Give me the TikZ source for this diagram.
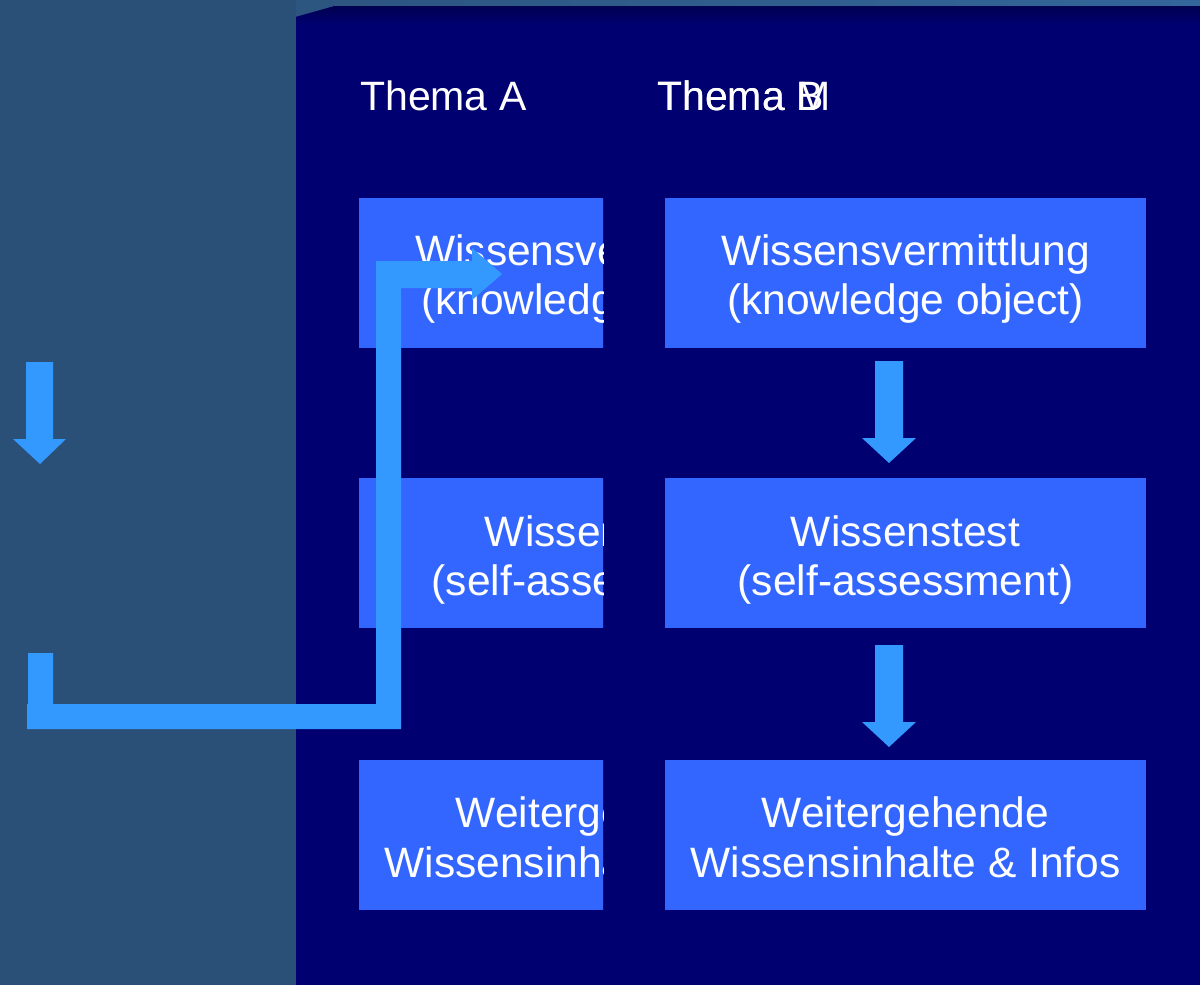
\documentclass[tikz,border=0pt]{standalone}
\usepackage{fontspec}
\setmainfont{Liberation Sans}
\definecolor{bgleft}{HTML}{2A5077}
\definecolor{bgright}{HTML}{33669A}
\definecolor{panel}{HTML}{000070}
\definecolor{paneltop}{HTML}{000050}
\definecolor{boxblue}{HTML}{3366FF}
\definecolor{arrowblue}{HTML}{3399FF}
\begin{document}
\begin{tikzpicture}[x=1pt,y=-1pt,
  box/.style={fill=boxblue, draw=none, minimum width=481pt, minimum height=150pt, inner sep=0pt, anchor=north west},
  boxtext/.style={text=white, font=\fontsize{42.5}{50}\selectfont, anchor=base, inner sep=0pt},
  thema/.style={text=white, font=\fontsize{41}{49}\selectfont, anchor=base west, inner sep=0pt},
  blockarrow/.style={fill=arrowblue, draw=none}]
\useasboundingbox (0,0) rectangle (1200,985);
% background
\shade[left color=bgleft, right color=bgright] (0,0) rectangle (1200,985);
\fill[bgleft] (0,0) rectangle (296,985);
% panel
\fill[panel] (296,985) -- (296,17) -- (335,6) -- (1200,6) -- (1200,985) -- cycle;
\begin{scope}
  \clip (296,985) -- (296,17) -- (335,6) -- (1200,6) -- (1200,985) -- cycle;
  \shade[top color=paneltop, bottom color=panel] (296,6) rectangle (1200,24);
\end{scope}
% titles
\node[thema] (tA) at (360,110) {Thema A};
\node[thema] (tB) at (657,110) {Thema B};
\node[thema] (tM) at (657,110) {Thema M};
% left column (clipped)
\begin{scope}
  \clip (296,0) rectangle (603,985);
  \node[box] (a1) at (359,198) {};
  \node[box] (a2) at (359,478) {};
  \node[box] (a3) at (359,760) {};
  \node[boxtext] (a1t1) at (599.5,265) {Wissensvermittlung};
  \node[boxtext] (a1t2) at (599.5,314) {(knowledge object)};
  \node[boxtext] (a2t1) at (599.5,546) {Wissenstest};
  \node[boxtext] (a2t2) at (599.5,595) {(self-assessment)};
  \node[boxtext] (a3t1) at (599.5,827) {Weitergehende};
  \node[boxtext] (a3t2) at (599.5,877) {Wissensinhalte \& Infos};
\end{scope}
% right column
\node[box] (b1) at (665,198) {};
\node[box] (b2) at (665,478) {};
\node[box] (b3) at (665,760) {};
\node[boxtext] (b1t1) at (905.5,265) {Wissensvermittlung};
\node[boxtext] (b1t2) at (905.5,314) {(knowledge object)};
\node[boxtext] (b2t1) at (905.5,546) {Wissenstest};
\node[boxtext] (b2t2) at (905.5,595) {(self-assessment)};
\node[boxtext] (b3t1) at (905.5,827) {Weitergehende};
\node[boxtext] (b3t2) at (905.5,877) {Wissensinhalte \& Infos};
% arrows
\fill[blockarrow] (26,362) -- (53,362) -- (53,439) -- (66,439) -- (40,464) -- (13,439) -- (26,439) -- cycle;
\fill[blockarrow] (875,361) -- (903,361) -- (903,438) -- (916,438) -- (889,463) -- (862,438) -- (875,438) -- cycle;
\fill[blockarrow] (875,645) -- (903,645) -- (903,722) -- (916,722) -- (889,747) -- (862,722) -- (875,722) -- cycle;
\fill[blockarrow] (28,653) -- (53,653) -- (53,704) -- (376,704) -- (376,261) -- (472,261) -- (472,248) -- (502,274) -- (472,300) -- (472,288) -- (401,288) -- (401,729) -- (27,729) -- (27,704) -- (28,704) -- cycle;
\end{tikzpicture}
\end{document}
